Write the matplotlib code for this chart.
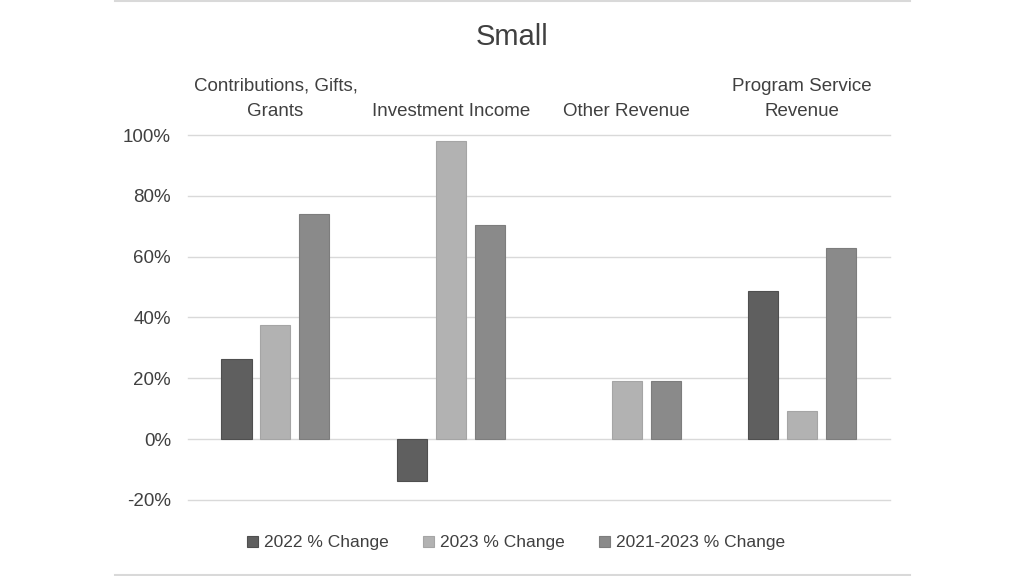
import matplotlib
matplotlib.use("Agg")
import matplotlib.pyplot as plt
import numpy as np
from matplotlib.ticker import FuncFormatter
from matplotlib.lines import Line2D

categories = ["Contributions, Gifts,\nGrants", "Investment Income", "Other Revenue", "Program Service\nRevenue"]
series_names = ["2022 % Change", "2023 % Change", "2021-2023 % Change"]
change_2022 = [26.4, -13.8, 0.0, 48.8]
change_2023 = [37.6, 98.1, 19.1, 9.3]
change_2021_2023 = [74.1, 70.5, 19.1, 62.8]
colors = ["#5f5f5f", "#b2b2b2", "#8a8a8a"]
edges = ["#4f4f4f", "#a5a5a5", "#7d7d7d"]

plt.rcParams['font.family'] = ['Liberation Sans Narrow', 'Liberation Sans', 'DejaVu Sans']

fig = plt.figure(figsize=(10.24, 5.76), dpi=100)
ax = fig.add_axes([187.7/1024, 1-499.8/576, (890-187.7)/1024, (499.8-135)/576])

x = np.arange(len(categories))
w = 0.171
step = 0.222
data = [change_2022, change_2023, change_2021_2023]
for i, vals in enumerate(data):
    bars = ax.bar(x + (i-1)*step, vals, width=w, color=colors[i], edgecolor=edges[i],
                  linewidth=0.8, label=series_names[i], zorder=3)
    for b, v in zip(bars, vals):
        if v == 0:
            b.set_visible(False)

ax.set_xlim(-0.5, len(categories)-0.5)
ax.set_ylim(-20, 100)
ax.set_yticks(np.arange(-20, 101, 20))
ax.yaxis.set_major_formatter(FuncFormatter(lambda v, p: f"{v:.0f}%"))
ax.grid(axis='y', color='#d9d9d9', linewidth=1.0, zorder=0)
for gl in ax.get_ygridlines():
    gl.set_clip_on(False)
ax.set_xticks(x)
ax.set_xticklabels(categories, fontsize=13.5, color='#404040', linespacing=1.6)
ax.tick_params(axis='x', top=True, labeltop=True, bottom=False, labelbottom=False, length=0, pad=11)
ax.tick_params(axis='y', length=0, labelsize=13.5, labelcolor='#404040', pad=12)
for s in ax.spines.values():
    s.set_visible(False)

fig.text(0.5, 1-37/576, "Small", ha='center', va='center', fontsize=21, color='#404040')

leg = fig.legend(loc='center', bbox_to_anchor=(516/1024, 1-543/576), ncol=3, frameon=False,
                 fontsize=12.5, handlelength=0.6, handleheight=0.6, handletextpad=0.35,
                 columnspacing=2.0)
for t in leg.get_texts():
    t.set_color('#404040')

fig.add_artist(Line2D([115/1024, 910/1024], [1-1/576, 1-1/576], color='#d9d9d9', linewidth=1.5))
fig.add_artist(Line2D([115/1024, 910/1024], [1-574.5/576, 1-574.5/576], color='#d9d9d9', linewidth=1.5))

fig.savefig("out.png", dpi=100)
